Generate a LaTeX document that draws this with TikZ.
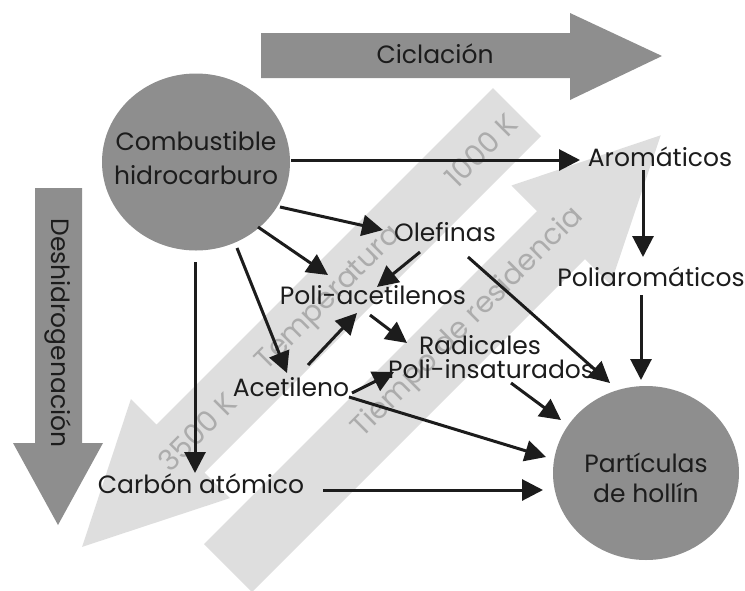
\documentclass[tikz,border=0pt]{standalone}
\usepackage{fontspec}
\setmainfont{Poppins}
\usetikzlibrary{arrows.meta,calc,shapes.geometric}

\definecolor{darkfill}{RGB}{142,142,142}
\definecolor{bandfill}{RGB}{222,222,222}
\definecolor{bandtext}{RGB}{172,172,172}
\definecolor{ink}{RGB}{28,28,28}

\begin{document}
\begin{tikzpicture}[x=1pt,y=-1pt,
  lbl/.style={font=\fontsize{25}{30}\selectfont, text=ink, inner sep=0pt,
              text height=18pt, text depth=5pt},
  blobtext/.style={font=\fontsize{25}{30}\selectfont, text=ink,
                   inner sep=0pt, align=center},
  blob/.style={ellipse, fill=darkfill, inner sep=0pt},
  bandlbl/.style={font=\fontsize{29}{34}\selectfont, text=bandtext,
                  rotate=45, inner sep=0pt},
  bigarrow/.style={fill=darkfill},
  conn/.style={draw=ink, line width=3pt,
               -{Triangle[length=21pt,width=21pt]}},
]
\useasboundingbox (0,0) rectangle (745,590);

% temperature band (pointing down-left)
\fill[bandfill] (493,88) -- (156.4,424.6) -- (130.9,399.1) -- (82.1,546.9)
  -- (229.9,498.1) -- (204.4,472.6) -- (541,136) -- cycle;
% residence-time band (pointing up-right)
\fill[bandfill] (204,544) -- (537,211) -- (511.5,185.5) -- (660.7,135.3)
  -- (610.5,284.5) -- (585,259) -- (252,592) -- cycle;

\node[bandlbl] (t1000) at (481,150) {1000 K};
\node[bandlbl] (ttemp) at (330,299) {Temperatura};
\node[bandlbl] (t3500) at (197,432) {3500 K};
\node[bandlbl] (tres)  at (468,323) {Tiempo de residencia};

% cyclisation and dehydrogenation arrows
\fill[bigarrow] (261,33) -- (570,33) -- (570,13) -- (662,56) -- (570,100)
  -- (570,78) -- (261,78) -- cycle;
\fill[bigarrow] (35,188) -- (82,188) -- (82,443) -- (103,443) -- (58,525)
  -- (13,443) -- (35,443) -- cycle;
\node[lbl] (cicl) at (435,57) {Ciclación};
\node[lbl, rotate=-90] (deshid) at (58,333) {Deshidrogenación};

% species
\node[blob, minimum width=188pt, minimum height=177pt] (comb) at (196,162) {};
\node[blobtext, font=\fontsize{25}{34}\selectfont] (combtxt)
      at ($(comb)+(0,-4)$) {Combustible\\hidrocarburo};
\node[blob, minimum width=186pt, minimum height=174pt] (part) at (646,473) {};
\node[blobtext] (parttxt) at ($(part)+(0,5)$) {Partículas\\de hollín};
\node[lbl] (arom)   at (660,160) {Aromáticos};
\node[lbl] (poliar) at (651,280) {Poliaromáticos};
\node[lbl] (olef)   at (445,235) {Olefinas};
\node[lbl] (polac)  at (373,298) {Poli-acetilenos};
\node[lbl] (radA)   at (480,348) {Radicales};
\node[lbl] (radB)   at (491,372) {Poli-insaturados};
\node[lbl] (acet)   at (291,390) {Acetileno};
\node[lbl] (carb)   at (201,487) {Carbón atómico};

% reaction paths
\draw[conn] ($(comb)+(95,-2)$)   -- ($(arom)+(-80,0)$);
\draw[conn] ($(comb)+(84,45)$)   -- ($(olef)+(-62,-5)$);
\draw[conn] ($(comb)+(62,65)$)   -- ($(polac)+(-45,-23)$);
\draw[conn] ($(comb)+(41,86)$)   -- ($(acet)+(-4,-17)$);
\draw[conn] ($(comb)+(-1,100)$)  -- ($(carb)+(-6,-14)$);
\draw[conn] ($(olef)+(-25,17)$)  -- ($(polac)+(4,-11)$);
\draw[conn] ($(acet)+(17,-25)$)  -- ($(polac)+(-16,15)$);
\draw[conn] ($(polac)+(-3,17)$)  -- ($(radA)+(-73,-5)$);
\draw[conn] ($(acet)+(61,3)$)    -- ($(radB)+(-97,0)$);
\draw[conn] ($(acet)+(58,7)$)    -- ($(part)+(-100,-16)$);
\draw[conn] ($(radB)+(20,11)$)   -- ($(part)+(-85,-53)$);
\draw[conn] ($(olef)+(23,22)$)   -- ($(part)+(-36,-90)$);
\draw[conn] ($(poliar)+(-10,15)$) -- ($(part)+(-5,-93)$);
\draw[conn] ($(arom)+(-17,10)$)  -- ($(poliar)+(-8,-23)$);
\draw[conn] ($(carb)+(122,3)$)   -- ($(part)+(-103,17)$);
\end{tikzpicture}
\end{document}
